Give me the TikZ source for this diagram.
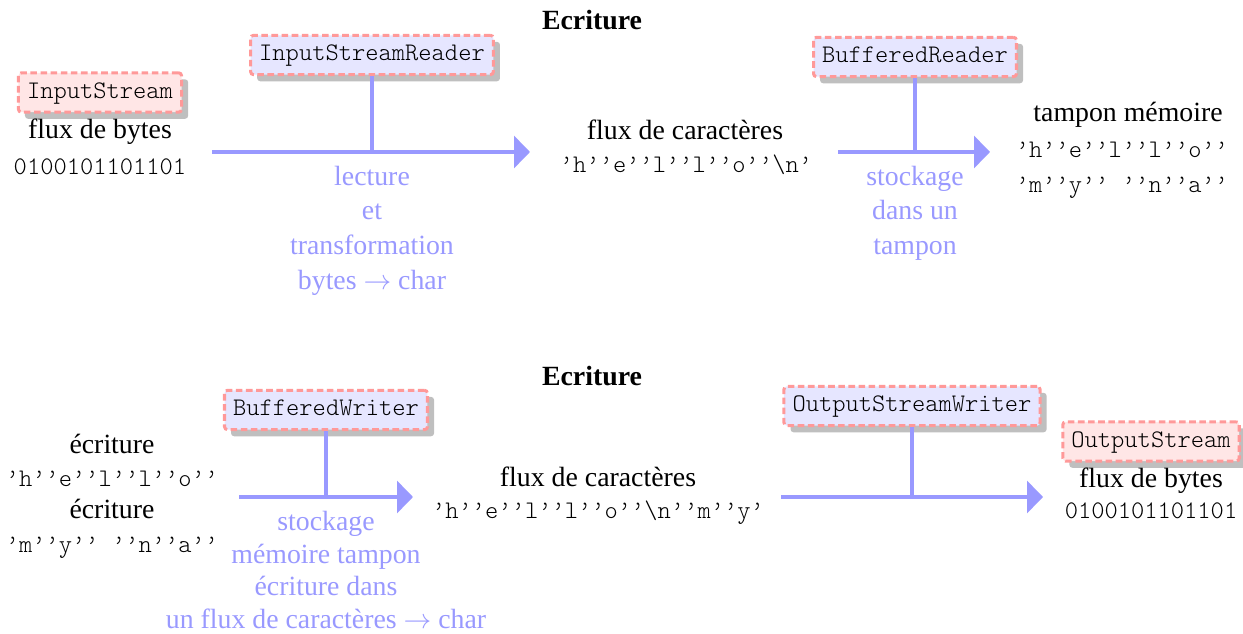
\documentclass[tikz,border=0pt]{standalone}
\usepackage{fontspec}
\setmainfont{Liberation Serif}
\setmonofont{Latin Modern Mono Light}
\usetikzlibrary{arrows.meta,shadows}

\definecolor{flow}{RGB}{153,153,255}
\definecolor{boxline}{RGB}{255,153,153}
\definecolor{classfill}{RGB}{230,230,255}
\definecolor{streamfill}{RGB}{255,230,230}

\tikzset{
  classbox/.style={draw=boxline, fill=classfill, line width=1.2pt,
    dash pattern=on 2.6pt off 1.4pt, rounded corners=1.2pt,
    font=\fontsize{10}{12}\ttfamily, text height=6.6pt, text depth=2.2pt,
    inner sep=3.4pt,
    drop shadow={shadow xshift=2.6pt, shadow yshift=-2.6pt, fill=black!25, opacity=1}},
  streambox/.style={classbox, fill=streamfill},
  txt/.style={anchor=base, font=\fontsize{11}{13.6}\selectfont, inner sep=0pt},
  codetxt/.style={anchor=base, font=\fontsize{10}{12}\ttfamily, inner sep=0pt},
  bluetxt/.style={txt, text=flow},
  heading/.style={anchor=base, font=\fontsize{11}{13.6}\selectfont\bfseries, inner sep=0pt},
  flowline/.style={draw=flow, line width=1.3pt},
  flowarrow/.style={flowline, -{Triangle[width=12.6pt,length=6.3pt]}},
}

\begin{document}
\begin{tikzpicture}[x=0.3956pt, y=-0.3956pt]
\useasboundingbox (0,0) rectangle (1243,634);

% ---------- reading chain ----------
\node[heading] (t1) at (592,30) {Ecriture};

\node[streambox] (is) at (100,92.5) {InputStream};
\node[txt] (is1) at (100,139) {flux de bytes};
\node[codetxt] (is2) at (100,175) {0100101101101};

\node[classbox] (isr) at (372,55) {InputStreamReader};
\coordinate (a1s) at (212,152);
\coordinate (a1e) at (530,152);
\draw[flowarrow] (a1s) -- (a1e);
\draw[flowline] (isr.south) -- (isr.south |- a1s);
\node[bluetxt] (n1a) at (372,186) {lecture};
\node[bluetxt] (n1b) at (372,220) {et};
\node[bluetxt] (n1c) at (372,255) {transformation};
\node[bluetxt] (n1d) at (372,290) {bytes $\rightarrow$ char};

\node[txt] (fc1) at (685,140) {flux de caractères};
\node[codetxt] (fc2) at (686,173) {’h’’e’’l’’l’’o’’\textbackslash n’};

\node[classbox] (br) at (915,57) {BufferedReader};
\coordinate (a2s) at (838,152);
\coordinate (a2e) at (990,152);
\draw[flowarrow] (a2s) -- (a2e);
\draw[flowline] (br.south) -- (br.south |- a2s);
\node[bluetxt] (n2a) at (915,186) {stockage};
\node[bluetxt] (n2b) at (915,220) {dans un};
\node[bluetxt] (n2c) at (915,255) {tampon};

\node[txt] (tm) at (1128,122) {tampon mémoire};
\node[codetxt] (tm1) at (1122,158) {’h’’e’’l’’l’’o’’};
\node[codetxt] (tm2) at (1122,193) {’m’’y’’ ’’n’’a’’};

% ---------- writing chain ----------
\node[heading] (t2) at (592,385) {Ecriture};

\node[txt] (w1) at (112,453) {écriture};
\node[codetxt] (w2) at (112,486) {’h’’e’’l’’l’’o’’};
\node[txt] (w3) at (112,518) {écriture};
\node[codetxt] (w4) at (112,552) {’m’’y’’ ’’n’’a’’};

\node[classbox] (bw) at (326,410) {BufferedWriter};
\coordinate (b1s) at (239,497);
\coordinate (b1e) at (413,497);
\draw[flowarrow] (b1s) -- (b1e);
\draw[flowline] (bw.south) -- (bw.south |- b1s);
\node[bluetxt] (m1a) at (326,530) {stockage};
\node[bluetxt] (m1b) at (326,563) {mémoire tampon};
\node[bluetxt] (m1c) at (326,595) {écriture dans};
\node[bluetxt] (m1d) at (326,628) {un flux de caractères $\rightarrow$ char};

\node[txt] (fc3) at (598,486) {flux de caractères};
\node[codetxt] (fc4) at (598,518) {’h’’e’’l’’l’’o’’\textbackslash n’’m’’y’};

\node[classbox] (osw) at (912,406) {OutputStreamWriter};
\coordinate (b2s) at (781,497);
\coordinate (b2e) at (1043,497);
\draw[flowarrow] (b2s) -- (b2e);
\draw[flowline] (osw.south) -- (osw.south |- b2s);

\node[streambox] (os) at (1151,441.5) {OutputStream};
\node[txt] (os1) at (1151,487) {flux de bytes};
\node[codetxt] (os2) at (1151,518) {0100101101101};
\end{tikzpicture}
\end{document}
